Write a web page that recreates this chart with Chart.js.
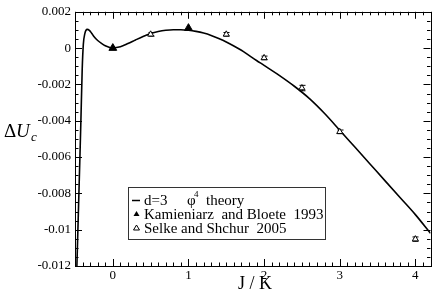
<!DOCTYPE html>
<html>
<head>
<meta charset="utf-8">
<script src="https://cdn.jsdelivr.net/npm/chart.js@4.4.1/dist/chart.umd.min.js"></script>
<style>
  html, body { margin: 0; padding: 0; background: #fff; }
  #wrap { width: 436px; height: 292px; }
</style>
</head>
<body>
<div id="wrap"><canvas id="chart" width="436" height="292"></canvas></div>
<script>
// d=3 phi^4 theory curve
var curveJ = [-0.475, -0.465, -0.445, -0.422, -0.405, -0.39, -0.37, -0.34, -0.31, -0.28,
  -0.25, -0.2, -0.15, -0.1, -0.05, 0, 0.1, 0.2, 0.3, 0.4, 0.5, 0.6, 0.7, 0.8, 0.9, 1.0,
  1.1, 1.2, 1.3, 1.4, 1.5, 1.6, 1.7, 1.8, 1.9, 2.0, 2.2, 2.4, 2.6, 2.8, 3.0, 3.2, 3.4,
  3.6, 3.8, 4.0, 4.2];
var curveU = [-0.012, -0.0105, -0.0075, -0.004, -0.0012, 0.0002, 0.0008, 0.00103, 0.00098, 0.00082,
  0.00064, 0.00042, 0.00026, 0.00013, 0.00005, 0.00002, 0.00008, 0.00025, 0.00045, 0.00064,
  0.0008, 0.00091, 0.00098, 0.00101, 0.00101, 0.00098, 0.00092, 0.00083, 0.0007, 0.00053,
  0.00034, 0.00012, -0.00012, -0.0004, -0.00068, -0.00095, -0.0015, -0.0021, -0.00278,
  -0.0036, -0.00452, -0.00545, -0.00638, -0.00731, -0.00824, -0.00917, -0.0102];

// Kamieniarz and Bloete 1993
var kamJ = [0, 1];
var kamU = [0.0, 0.0011];

// Selke and Shchur 2005 (with error bars)
var selJ = [0.5, 1.5, 2, 2.5, 3, 4];
var selU = [0.00076, 0.00076, -0.00054, -0.0022, -0.00461, -0.01052];
var selErr = [0.0001, 0.0001, 0.0001, 0.00015, 0.0001, 0.00012];

var xTicks = [0, 1, 2, 3, 4];
var yTicks = [0.002, 0, -0.002, -0.004, -0.006, -0.008, -0.01, -0.012];

function pts(xs, ys) {
  return xs.map(function (x, i) { return {x: x, y: ys[i]}; });
}

var serif = '"Liberation Serif", "DejaVu Serif", serif';

// inner ticks, frame, error bars, axis titles and legend
var decor = {
  id: 'decor',
  beforeDatasetsDraw: function (chart) {
    var c = chart.ctx, xs = chart.scales.x, ys = chart.scales.y;
    c.save();
    c.strokeStyle = '#000';
    c.lineWidth = 1;
    selJ.forEach(function (j, i) {
      var px = Math.round(xs.getPixelForValue(j)) + 0.5;
      var top = ys.getPixelForValue(selU[i] + selErr[i]);
      var bot = ys.getPixelForValue(selU[i] - selErr[i]);
      c.beginPath();
      c.moveTo(px, top); c.lineTo(px, bot);
      c.moveTo(px - 3, top); c.lineTo(px + 3, top);
      c.moveTo(px - 3, bot); c.lineTo(px + 3, bot);
      c.stroke();
    });
    c.restore();
  },
  afterDraw: function (chart) {
    var c = chart.ctx, a = chart.chartArea, xs = chart.scales.x, ys = chart.scales.y;
    c.save();
    c.strokeStyle = '#000';
    c.lineWidth = 1;
    c.strokeRect(Math.round(a.left) + 0.5, Math.round(a.top) + 0.5,
      Math.round(a.right - a.left), Math.round(a.bottom - a.top));

    c.beginPath();
    for (var i = -5; i <= 42; i++) {
      var px = Math.round(xs.getPixelForValue(i / 10)) + 0.5;
      var len = (i % 10 === 0) ? 7 : 3.5;
      c.moveTo(px, a.bottom); c.lineTo(px, a.bottom - len);
      c.moveTo(px, a.top); c.lineTo(px, a.top + len);
    }
    for (var k = -24; k <= 4; k++) {
      var py = Math.round(ys.getPixelForValue(k * 0.0005)) + 0.5;
      var l2 = (k % 4 === 0) ? 7 : 3.5;
      c.moveTo(a.left, py); c.lineTo(a.left + l2, py);
      c.moveTo(a.right, py); c.lineTo(a.right - l2, py);
    }
    c.stroke();

    // axis titles
    c.fillStyle = '#000';
    c.textBaseline = 'alphabetic';
    c.textAlign = 'center';
    c.font = '18px ' + serif;
    c.fillText('J / K', 255, 289);
    c.textAlign = 'left';
    c.font = '19px ' + serif;
    c.fillText('\u0394', 4, 137);
    c.font = 'italic 19px ' + serif;
    c.fillText('U', 16, 137);
    c.font = 'italic 13px ' + serif;
    c.fillText('c', 31, 141);

    // legend
    var lx = 128, ly = 187, lw = 197, lh = 52;
    c.fillStyle = '#fff';
    c.fillRect(lx, ly, lw, lh);
    c.strokeStyle = '#333';
    c.strokeRect(lx + 0.5, ly + 0.5, lw, lh);
    c.strokeStyle = '#000';
    c.lineWidth = 1.5;
    c.beginPath();
    c.moveTo(132, 200.5); c.lineTo(140, 200.5);
    c.stroke();
    c.fillStyle = '#000';
    c.beginPath();
    c.moveTo(136.5, 211); c.lineTo(139.5, 216); c.lineTo(133.5, 216); c.closePath();
    c.fill();
    c.lineWidth = 1;
    c.beginPath();
    c.moveTo(136.5, 225); c.lineTo(139.5, 230); c.lineTo(133.5, 230); c.closePath();
    c.stroke();

    c.font = '15px ' + serif;
    c.fillText('d=3', 144, 205);
    c.fillText('\u03c6', 187, 205);
    c.font = '9px ' + serif;
    c.fillText('4', 194, 197);
    c.font = '15px ' + serif;
    c.fillText('theory', 206, 205);
    c.fillText('Kamieniarz  and Bloete  1993', 144, 219);
    c.fillText('Selke and Shchur  2005', 144, 233);
    c.restore();
  }
};

var ctx = document.getElementById('chart').getContext('2d');
var myChart = new Chart(ctx, {
  type: 'scatter',
  data: {
    datasets: [
      {
        label: 'd=3 phi4 theory',
        data: pts(curveJ, curveU),
        showLine: true,
        borderColor: '#000',
        borderWidth: 1.6,
        pointRadius: 0,
        cubicInterpolationMode: 'monotone',
        order: 3
      },
      {
        label: 'Kamieniarz and Bloete 1993',
        data: pts(kamJ, kamU),
        pointStyle: 'triangle',
        pointRadius: 4.5,
        backgroundColor: '#000',
        borderColor: '#000',
        borderWidth: 1,
        order: 1
      },
      {
        label: 'Selke and Shchur 2005',
        data: pts(selJ, selU),
        pointStyle: 'triangle',
        pointRadius: 3.5,
        backgroundColor: '#fff',
        borderColor: '#000',
        borderWidth: 1,
        order: 2
      }
    ]
  },
  options: {
    responsive: false,
    animation: false,
    devicePixelRatio: 1,
    layout: { padding: { left: 0, top: 7, right: 5, bottom: 0 } },
    plugins: { legend: { display: false }, tooltip: { enabled: false } },
    scales: {
      x: {
        type: 'linear',
        min: -0.5,
        max: 4.2,
        grid: { display: false, drawTicks: false, tickLength: 0 },
        border: { display: false },
        afterBuildTicks: function (s) { s.ticks = xTicks.map(function (v) { return {value: v}; }); },
        afterFit: function (s) { s.height = 26; },
        ticks: {
          color: '#000',
          padding: 2,
          maxRotation: 0,
          font: { family: serif, size: 13 },
          callback: function (v) { return String(v); }
        }
      },
      y: {
        type: 'linear',
        min: -0.012,
        max: 0.002,
        grid: { display: false, drawTicks: false, tickLength: 0 },
        border: { display: false },
        afterBuildTicks: function (s) { s.ticks = yTicks.map(function (v) { return {value: v}; }); },
        afterFit: function (s) { s.width = 75; },
        ticks: {
          color: '#000',
          padding: 4,
          font: { family: serif, size: 13 },
          callback: function (v) { return String(+v.toFixed(3)); }
        }
      }
    }
  },
  plugins: [decor]
});
</script>
</body>
</html>
